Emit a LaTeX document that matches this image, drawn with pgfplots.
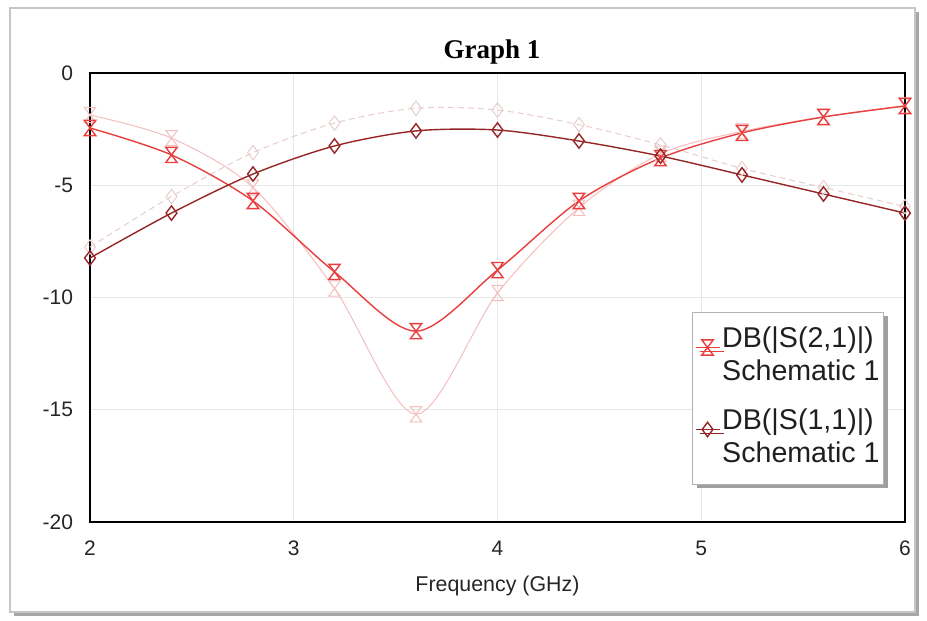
\documentclass[border=0pt]{standalone}
\usepackage{fontspec}
\setmainfont{Liberation Sans}
\newfontfamily\titlefont{Liberation Serif}
\usepackage{pgfplots}
\pgfplotsset{compat=1.18}
\usetikzlibrary{shadows}
\definecolor{sref}{RGB}{232,62,62}
\definecolor{sdark}{RGB}{150,38,38}
\definecolor{sfaint}{RGB}{246,190,190}
\definecolor{sfaintb}{RGB}{232,205,205}

% hourglass marker: bars top and bottom, diagonals between
\pgfdeclareplotmark{hourglass}{%
  \pgfpathmoveto{\pgfqpoint{-0.75\pgfplotmarksize}{\pgfplotmarksize}}%
  \pgfpathlineto{\pgfqpoint{0.75\pgfplotmarksize}{\pgfplotmarksize}}%
  \pgfpathlineto{\pgfqpoint{-0.75\pgfplotmarksize}{-\pgfplotmarksize}}%
  \pgfpathlineto{\pgfqpoint{0.75\pgfplotmarksize}{-\pgfplotmarksize}}%
  \pgfpathclose
  \pgfusepathqstroke}

\begin{document}
\begin{tikzpicture}[x=0.5pt,y=0.5pt]
% page frame
\path (0,0) rectangle (927,621);
\fill[gray!70] (14,5) rectangle (919,609);
\draw[gray!45,fill=white,line width=0.6pt] (10,9) rectangle (915,613);
\node[font=\titlefont\bfseries\fontsize{13.5}{15}\selectfont] at (492,569) {Graph 1};

\begin{axis}[at={(45pt,49.5pt)},anchor=south west,scale only axis,
  width=407.5pt,height=224.5pt,
  xmin=2,xmax=6,ymin=-20,ymax=0,
  xtick={2,3,4,5,6},ytick={-20,-15,-10,-5,0},
  major tick length=0pt,
  grid=major,grid style={gray!18,line width=0.4pt},
  axis line style={black,line width=0.8pt},
  /pgf/number format/assume math mode=true,
  tick label style={font=\fontsize{10.5}{12}\selectfont,text=black!85},
  xticklabel style={yshift=-6pt},
  yticklabel style={xshift=-5pt},
  xlabel={Frequency (GHz)},
  xlabel style={font=\fontsize{10.7}{12}\selectfont,text=black!85,yshift=-3pt},
  legend style={at={(axis cs:5.897,-10.65)},anchor=north east,
    font=\fontsize{14.3}{16.5}\selectfont,text=black!88,
    nodes={text depth=,inner xsep=1pt},
    draw=gray!60,fill=white,row sep=4pt,inner xsep=1pt,inner ysep=4pt,
    drop shadow={shadow xshift=2pt,shadow yshift=-2pt,fill=gray!75,opacity=1}},
  legend cell align=left,
  legend image code/.code={\draw[mark repeat=2,mark phase=2,#1] plot coordinates {(0pt,5pt) (6pt,5pt) (12pt,5pt)};},
]
% faint reference traces
\addplot[sfaintb,densely dashed,line width=0.5pt,smooth,tension=0.5,mark=diamond,mark size=3.6pt,mark options={solid,line width=0.5pt},forget plot]
  coordinates {(2,-7.75)(2.4,-5.5)(2.8,-3.55)(3.2,-2.23)(3.6,-1.57)(4.0,-1.65)(4.4,-2.3)(4.8,-3.2)(5.2,-4.25)(5.6,-5.1)(6.0,-5.95)};
\addplot[sfaint,line width=0.5pt,smooth,tension=0.5,mark=hourglass,mark size=3.8pt,mark options={solid,line width=0.5pt},forget plot]
  coordinates {(2,-1.87)(2.4,-2.9)(2.8,-5.1)(3.2,-9.6)(3.6,-15.2)(4.0,-9.8)(4.4,-6.0)(4.8,-3.6)(5.2,-2.6)(5.6,-1.95)(6.0,-1.45)};
% main traces
\addplot[sref,line width=0.7pt,smooth,mark=hourglass,mark size=3.8pt,mark options={solid,line width=0.7pt}]
  coordinates {(2,-2.45)(2.4,-3.65)(2.8,-5.7)(3.2,-8.86)(3.6,-11.5)(4.0,-8.78)(4.4,-5.7)(4.8,-3.79)(5.2,-2.67)(5.6,-1.96)(6.0,-1.47)};
\addlegendentry{\begin{tabular}[t]{@{}l@{}}DB(|S(2,1)|)\\Schematic 1\end{tabular}}
\addplot[sdark,line width=0.7pt,smooth,mark=diamond,mark size=3.6pt,mark options={solid,line width=0.7pt}]
  coordinates {(2,-8.24)(2.4,-6.24)(2.8,-4.5)(3.2,-3.25)(3.6,-2.58)(4.0,-2.54)(4.4,-3.03)(4.8,-3.7)(5.2,-4.54)(5.6,-5.39)(6.0,-6.24)};
\addlegendentry{\begin{tabular}[t]{@{}l@{}}DB(|S(1,1)|)\\Schematic 1\end{tabular}}
\end{axis}
\end{tikzpicture}
\end{document}
